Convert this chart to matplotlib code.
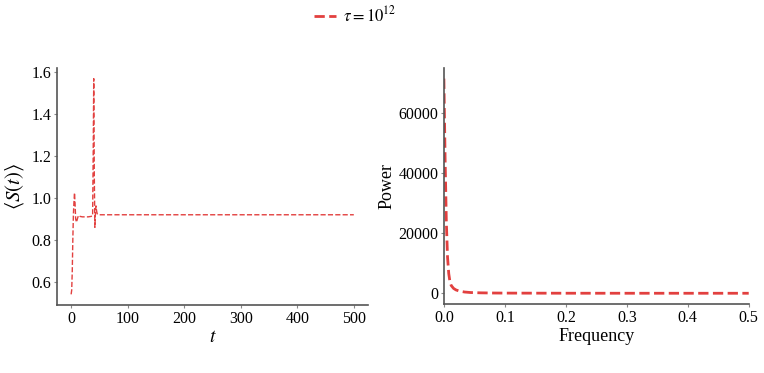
import matplotlib
matplotlib.use("Agg")
import matplotlib.pyplot as plt

# time series <S(t)>
t = [0, 1, 2, 3, 4, 5, 6, 7, 8, 9.5, 11, 13, 16, 20, 25, 30, 35, 38, 39, 40,
     41, 42, 43, 44, 45, 46, 48, 50, 60, 100, 200, 300, 400, 500]
s = [0.54, 0.56, 0.65, 0.80, 0.92, 0.98, 1.025, 0.97, 0.90, 0.884, 0.90, 0.917,
     0.912, 0.91, 0.91, 0.91, 0.912, 0.915, 1.20, 1.57, 1.10, 0.86, 0.93, 0.962,
     0.94, 0.925, 0.92, 0.92, 0.92, 0.92, 0.92, 0.92, 0.92, 0.92]

# power spectrum
freq = [0, 0.002, 0.004, 0.006, 0.008, 0.010, 0.012, 0.016, 0.020, 0.026,
        0.034, 0.044, 0.06, 0.08, 0.1, 0.2, 0.3, 0.4, 0.5]
power = [71500, 45000, 24000, 12000, 6500, 3800, 2600, 1600, 1100, 700,
         420, 250, 150, 90, 60, 20, 10, 8, 7]

label = r'$\tau = 10^{12}$'
red = '#e2403f'

plt.rcParams['font.family'] = ['Liberation Serif', 'DejaVu Serif']
plt.rcParams['mathtext.fontset'] = 'stix'
plt.rcParams['font.size'] = 12

fig = plt.figure(figsize=(7.64, 3.73), dpi=100)
ax1 = fig.add_axes([0.0746, 0.182, 0.407, 0.636])
ax2 = fig.add_axes([0.581, 0.185, 0.399, 0.633])

ax1.plot(t, s, '--', color=red, lw=1.0)
ax1.set_xlabel(r'$t$', fontsize=14, labelpad=2)
ax1.set_ylabel(r'$\langle S(t) \rangle$', fontsize=15, labelpad=4)
ax1.set_xticks([0, 100, 200, 300, 400, 500])
ax1.set_yticks([0.6, 0.8, 1.0, 1.2, 1.4, 1.6])

ax2.plot(freq, power, '--', color=red, lw=2.0)
ax2.set_xlim(0, 0.5)
ax2.set_xlabel('Frequency', fontsize=13, labelpad=2)
ax2.set_ylabel('Power', fontsize=13, labelpad=2)
ax2.set_yticks([0, 20000, 40000, 60000])

for ax in (ax1, ax2):
    ax.spines['top'].set_visible(False)
    ax.spines['right'].set_visible(False)
    for sp in ('left', 'bottom'):
        ax.spines[sp].set_color('#555555')
        ax.spines[sp].set_linewidth(1.2)
    ax.tick_params(direction='out', length=2.5, width=0.8, color='#888888',
                   labelsize=11.5, pad=1.5)

handle, = ax2.plot([], [], '--', color=red, lw=2.0)
fig.legend([handle], [label], loc='upper center', bbox_to_anchor=(0.465, 1.025),
           frameon=False, fontsize=12, handlelength=1.3, handletextpad=0.4)

fig.savefig('out.png', dpi=100)
